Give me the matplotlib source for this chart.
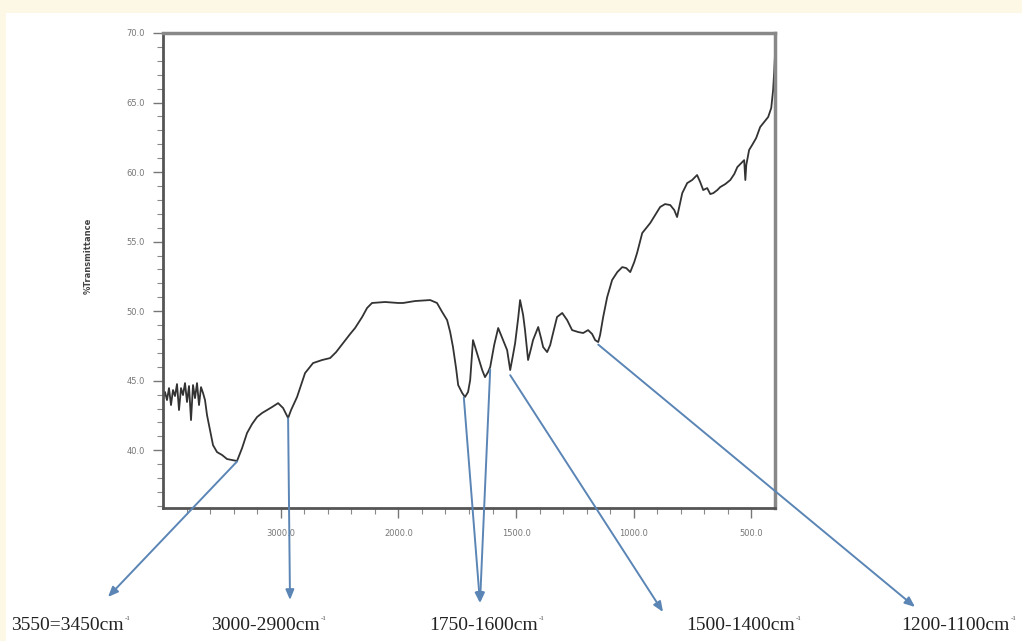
import numpy as np
import matplotlib
matplotlib.use("Agg")
import matplotlib.pyplot as plt
from matplotlib.patches import Rectangle
from matplotlib.ticker import FixedLocator, FuncFormatter

# FTIR spectrum: wavenumber (cm-1) and %T
wavenumber = [4000, 3983, 3966, 3949, 3932, 3915, 3898, 3881, 3864, 3847,
              3830, 3813, 3796, 3779, 3762, 3745, 3728, 3711, 3694, 3677,
              3660, 3643, 3626, 3609, 3592, 3575, 3541, 3498, 3456, 3413,
              3371, 3328, 3286, 3243, 3201, 3158, 3116, 3073, 3022, 2980,
              2954, 2937, 2912, 2861, 2793, 2725, 2648, 2580, 2529, 2470,
              2410, 2368, 2308, 2266, 2224, 2113, 2002, 1980, 1929, 1865,
              1836, 1814, 1793, 1780, 1768, 1755, 1746, 1729, 1717, 1704,
              1695, 1683, 1670, 1661, 1644, 1632, 1619, 1610, 1593, 1576,
              1559, 1538, 1525, 1513, 1504, 1491, 1483, 1470, 1462, 1449,
              1436, 1428, 1406, 1394, 1385, 1368, 1355, 1347, 1326, 1304,
              1283, 1262, 1236, 1215, 1194, 1177, 1164, 1151, 1143, 1130,
              1113, 1092, 1070, 1049, 1032, 1015, 998, 986, 964, 947,
              930, 909, 888, 867, 845, 828, 816, 803, 794, 773,
              752, 731, 718, 705, 688, 675, 662, 645, 633, 611,
              590, 573, 560, 543, 531, 526, 522, 510, 497, 480,
              463, 446, 429, 416, 408, 403, 400]
transmittance = [43.75, 44.19, 43.61, 44.47, 43.25, 44.33, 43.90, 44.76, 42.89, 44.47,
                 43.97, 44.83, 43.47, 44.62, 42.17, 44.69, 43.75, 44.83, 43.25, 44.54,
                 44.12, 43.61, 42.53, 41.81, 41.09, 40.37, 39.87, 39.66, 39.37, 39.30,
                 39.23, 40.16, 41.24, 41.89, 42.39, 42.68, 42.89, 43.11, 43.39, 43.04,
                 42.61, 42.32, 42.89, 43.83, 45.55, 46.27, 46.49, 46.63, 47.06, 47.71,
                 48.36, 48.79, 49.58, 50.23, 50.59, 50.66, 50.59, 50.59, 50.73, 50.80,
                 50.59, 49.94, 49.36, 48.50, 47.42, 45.91, 44.69, 44.12, 43.83, 44.19,
                 45.05, 47.92, 47.20, 46.70, 45.77, 45.26, 45.62, 45.98, 47.57, 48.79,
                 48.07, 47.20, 45.77, 46.85, 47.71, 49.51, 50.80, 49.72, 48.64, 46.49,
                 47.35, 47.92, 48.86, 48.07, 47.42, 47.06, 47.57, 48.14, 49.58, 49.87,
                 49.36, 48.64, 48.50, 48.43, 48.64, 48.36, 47.92, 47.78, 48.29, 49.58,
                 51.01, 52.24, 52.81, 53.17, 53.10, 52.81, 53.53, 54.18, 55.62, 55.98,
                 56.34, 56.91, 57.49, 57.70, 57.63, 57.27, 56.77, 57.77, 58.49, 59.21,
                 59.43, 59.79, 59.29, 58.71, 58.85, 58.42, 58.49, 58.71, 58.92, 59.14,
                 59.43, 59.86, 60.36, 60.65, 60.86, 59.43, 60.51, 61.59, 61.95, 62.45,
                 63.24, 63.60, 63.96, 64.61, 65.90, 67.33, 68.45]

# band labels and the spectrum points their arrows start from
band_labels = ["3550=3450cm", "3000-2900cm", "1750-1600cm", "1500-1400cm", "1200-1100cm"]
band_sup = "-1"
band_points = [[(3370, 39.2)], [(2937, 42.3)], [(1722, 43.8), (1610, 45.8)],
               [(1525, 45.4)], [(1151, 47.6)]]
label_end = [124, 320, 538, 795, 1010]      # figure pixels
head_xy = [(108, 44), (290, 41), (480, 38), (663, 29), (915, 34)]

x_major = [3000, 2000, 1500, 1000, 500]
y_major = [40, 45, 50, 55, 60, 65, 70]


# instrument axis: 4000-2000 compressed by half
def fwd(w):
    w = np.asarray(w, dtype=float)
    return np.where(w >= 2000, (4000 - w) / 2.0, 1000 + (2000 - w))


def inv(p):
    p = np.asarray(p, dtype=float)
    return np.where(p <= 1000, 4000 - 2.0 * p, 2000 - (p - 1000))


fig = plt.figure(figsize=(10.22, 6.41), dpi=100)
fig.patch.set_facecolor("white")
# cream border around the scan
fig.patches.append(Rectangle((0, 1 - 13 / 641), 1, 13 / 641, transform=fig.transFigure,
                             facecolor="#fdf8e6", edgecolor="none", zorder=0))
fig.patches.append(Rectangle((0, 0), 6 / 1022, 1, transform=fig.transFigure,
                             facecolor="#fdf8e6", edgecolor="none", zorder=0))

ax = fig.add_axes([163 / 1022, 1 - 508 / 641, 612 / 1022, 475 / 641])
ax.set_xscale("function", functions=(fwd, inv))
ax.plot(wavenumber, transmittance, color="#333333", lw=1.3)
ax.set_xlim(400, 4000)
ax.set_ylim(35.85, 70)

ax.xaxis.set_major_locator(FixedLocator(x_major))
ax.xaxis.set_minor_locator(FixedLocator(list(range(3800, 2000, -200)) + list(range(1900, 400, -100))))
ax.yaxis.set_major_locator(FixedLocator(y_major))
ax.yaxis.set_minor_locator(FixedLocator(list(range(36, 71))))
fmt = FuncFormatter(lambda v, pos: "%.1f" % v)
ax.xaxis.set_major_formatter(fmt)
ax.yaxis.set_major_formatter(fmt)
ax.tick_params(which="major", direction="out", length=7, width=1, color="#777777",
               labelsize=6, labelcolor="#777777")
ax.tick_params(which="minor", direction="out", length=4, width=0.8, color="#888888")
ax.tick_params(axis="y", pad=6)
ax.tick_params(axis="x", pad=8)
for side in ["left", "bottom"]:
    ax.spines[side].set_color("#555555")
    ax.spines[side].set_linewidth(2)
for side in ["top", "right"]:
    ax.spines[side].set_color("#888888")
    ax.spines[side].set_linewidth(2.5)
ax.set_ylabel("%Transmittance", fontsize=6, color="#444444", fontweight="bold")
ax.yaxis.set_label_coords(-0.114, 0.53)

arrow_color = "#5a85b5"
for lab, pts, xe, head in zip(band_labels, band_points, label_end, head_xy):
    for pt in pts:
        ax.annotate("", xy=head, xycoords="figure pixels", xytext=pt, textcoords="data",
                    annotation_clip=False,
                    arrowprops=dict(arrowstyle="-|>,head_length=0.6,head_width=0.25",
                                    color=arrow_color, lw=1.4, shrinkA=0, shrinkB=0))
    fig.text(xe / 1022, 15 / 641, lab, ha="right", va="center", fontsize=14,
             family="Liberation Serif", color="#222222")
    fig.text((xe + 1) / 1022, 23 / 641, band_sup, ha="left", va="center", fontsize=5,
             family="Liberation Serif", color="#444444")

fig.savefig("out.png", dpi=100)
